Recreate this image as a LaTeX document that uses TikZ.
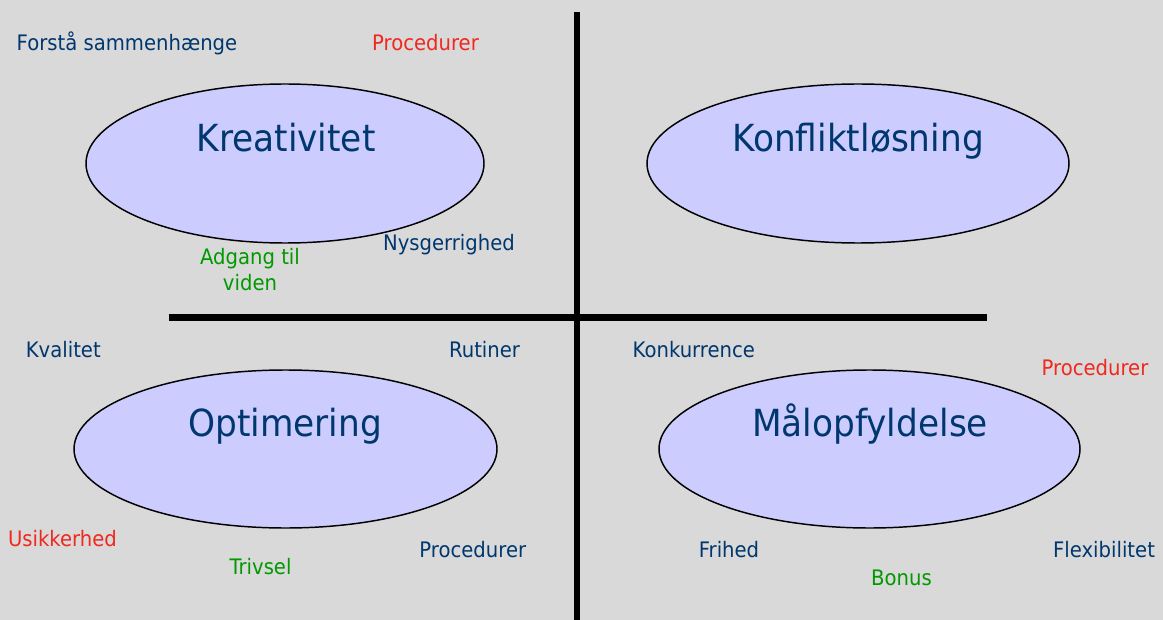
\documentclass[tikz,border=0pt]{standalone}
\usepackage{fontspec}
\setmainfont{DejaVu Sans}[FakeStretch=0.92]
\usetikzlibrary{shapes.geometric}
\definecolor{bg}{RGB}{217,217,217}
\definecolor{navy}{RGB}{0,55,110}
\definecolor{redtxt}{RGB}{240,40,30}
\definecolor{greentxt}{RGB}{0,153,0}
\definecolor{ellfill}{RGB}{204,204,255}
\tikzset{
  oval/.style={ellipse, draw=black, line width=1.1pt, fill=ellfill, inner sep=0pt},
  title/.style={anchor=base, inner sep=0pt, text=navy, font=\fontsize{28pt}{32pt}\selectfont},
  word/.style={anchor=base, inner sep=0pt, font=\fontsize{16pt}{20.25pt}\selectfont},
  axis/.style={line width=4.6pt, black}
}
\begin{document}
\begin{tikzpicture}[x=0.75pt,y=-0.75pt]
\fill[bg] (0,0) rectangle (1163,620);
\useasboundingbox (0,0) rectangle (1163,620);
% axes
\coordinate (vtop) at (577,12);
\coordinate (vbot) at (577,620);
\coordinate (hl) at (168.5,317.5);
\coordinate (hr) at (987,317.5);
\draw[axis] (vtop) -- (vbot);
\draw[axis] (hl) -- (hr);
% ellipses
\node[oval, minimum width=298.5pt, minimum height=119.25pt] (e1) at (285,163.5) {};
\node[oval, minimum width=316.5pt, minimum height=119.25pt] (e2) at (858,163.5) {};
\node[oval, minimum width=317.25pt, minimum height=118.5pt] (e3) at (285.5,449) {};
\node[oval, minimum width=315.75pt, minimum height=118.5pt] (e4) at (869.5,449) {};
% titles
\node[title] (t1) at (286,151.7) {Kreativitet};
\node[title] (t2) at (858,151.7) {Konfliktløsning};
\node[title] (t3) at (285,436) {Optimering};
\node[title] (t4) at (870,436) {Målopfyldelse};
% words
\node[word, text=navy] (w1) at (127,50.7) {Forstå sammenhænge};
\node[word, text=redtxt] (w2) at (425.5,51) {Procedurer};
\node[word, text=navy] (w3) at (449,250.7) {Nysgerrighed};
\node[word, text=greentxt, align=center] (w4) at (250,291) {Adgang til\\viden};
\node[word, text=navy] (w5) at (63.3,357.3) {Kvalitet};
\node[word, text=navy] (w6) at (484.5,357) {Rutiner};
\node[word, text=redtxt] (w7) at (62.5,546.7) {Usikkerhed};
\node[word, text=greentxt] (w8) at (260.5,574.3) {Trivsel};
\node[word, text=navy] (w9) at (472.8,557.7) {Procedurer};
\node[word, text=navy] (w10) at (693.8,357.3) {Konkurrence};
\node[word, text=redtxt] (w11) at (1095,375.7) {Procedurer};
\node[word, text=navy] (w12) at (729,557.7) {Frihed};
\node[word, text=navy] (w13) at (1104,557.7) {Flexibilitet};
\node[word, text=greentxt] (w14) at (901.5,585.7) {Bonus};
\end{tikzpicture}
\end{document}
